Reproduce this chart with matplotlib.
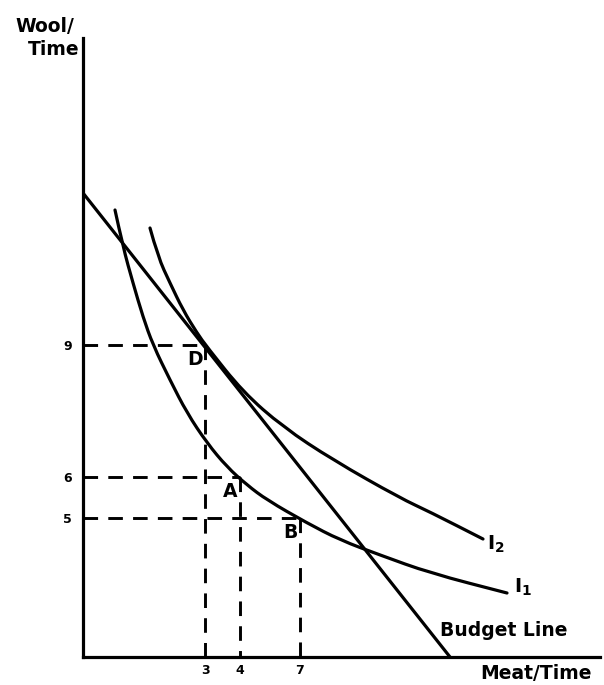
import matplotlib
matplotlib.use("Agg")
import matplotlib.pyplot as plt
from matplotlib.path import Path
from matplotlib.patches import PathPatch

# Schematic units (the original drawing is not to scale)
budget_x = [0.0, 7.34]
budget_y = [9.28, 0.0]

i1_x = [0.64, 0.80, 1.00, 1.20, 1.40, 1.74, 2.08, 2.48, 2.88, 3.28, 3.68, 4.48, 5.14, 5.94, 6.94, 8.48]
i1_y = [8.94, 8.20, 7.48, 6.80, 6.24, 5.54, 4.88, 4.28, 3.80, 3.44, 3.14, 2.68, 2.34, 2.04, 1.68, 1.28]

i2_x = [1.34, 1.50, 1.74, 2.00, 2.28, 2.48, 3.20, 4.00, 5.00, 6.34, 6.94, 8.00]
i2_y = [8.58, 8.00, 7.48, 6.94, 6.48, 6.20, 5.30, 4.60, 3.94, 3.18, 2.90, 2.36]

# marked bundles D, A, B
point_names = ["D", "A", "B"]
point_x = [2.44, 3.14, 4.34]
point_y = [6.24, 3.60, 2.78]
x_tick_labels = ["3", "4", "7"]
y_tick_labels = ["9", "6", "5"]

plt.rcParams['font.family'] = ['DejaVu Sans']


def smooth_curve(ax, xs, ys, lw):
    '''
    Draw the read points as a smooth quadratic bezier path
    '''
    pts = list(zip(xs, ys))
    verts = [pts[0]]
    codes = [Path.MOVETO]
    for i in range(1, len(pts) - 1):
        mid = ((pts[i][0] + pts[i + 1][0]) / 2, (pts[i][1] + pts[i + 1][1]) / 2)
        verts += [pts[i], mid]
        codes += [Path.CURVE3, Path.CURVE3]
    verts.append(pts[-1])
    codes.append(Path.LINETO)
    ax.add_patch(PathPatch(Path(verts, codes), fill=False, lw=lw,
                           edgecolor='black', capstyle='round'))


fig = plt.figure(figsize=(6.04, 6.85), dpi=100)
ax = fig.add_axes([83 / 604, 28 / 685, 517 / 604, 619 / 685])
ax.set_xlim(0, 10.34)
ax.set_ylim(0, 12.38)

lw = 2.3
ax.plot(budget_x, budget_y, color='black', lw=lw, solid_capstyle='butt')
smooth_curve(ax, i1_x, i1_y, lw)
smooth_curve(ax, i2_x, i2_y, lw)

# dashed guide lines
for px, py in zip(point_x, point_y):
    ax.plot([0, px], [py, py], color='black', lw=2.1, dashes=(5, 3.5))
    ax.plot([px, px], [py, 0], color='black', lw=2.1, dashes=(5, 3.5))

for name, px, py in zip(point_names, point_x, point_y):
    ax.text(px - 0.05, py - 0.1, name, ha='right', va='top',
            fontsize=13.5, fontweight='bold')

ax.text(8.08, 2.26, r'I$_{\mathregular{2}}$', fontsize=14, fontweight='bold', va='center')
ax.text(8.62, 1.40, r'I$_{\mathregular{1}}$', fontsize=14, fontweight='bold', va='center')
ax.text(7.14, 0.52, 'Budget Line', fontsize=13.5, fontweight='bold', va='center')

ax.set_xticks(point_x)
ax.set_xticklabels(x_tick_labels, fontsize=9, fontweight='bold')
ax.set_yticks(point_y)
ax.set_yticklabels(y_tick_labels, fontsize=9, fontweight='bold')
ax.tick_params(length=0, pad=5)
ax.tick_params(axis='y', pad=8)

ax.spines['top'].set_visible(False)
ax.spines['right'].set_visible(False)
ax.spines['left'].set_linewidth(2.3)
ax.spines['bottom'].set_linewidth(2.3)

fig.text(74 / 604, 1 - 17 / 685, 'Wool/', ha='right', va='top',
         fontsize=13.5, fontweight='bold')
fig.text(79 / 604, 1 - 55 / 685, 'Time', ha='right', va='baseline',
         fontsize=13.5, fontweight='bold')
fig.text(592 / 604, 2 / 685, 'Meat/Time', ha='right', va='bottom',
         fontsize=13.5, fontweight='bold')

fig.savefig('out.png', dpi=100, facecolor='white')
